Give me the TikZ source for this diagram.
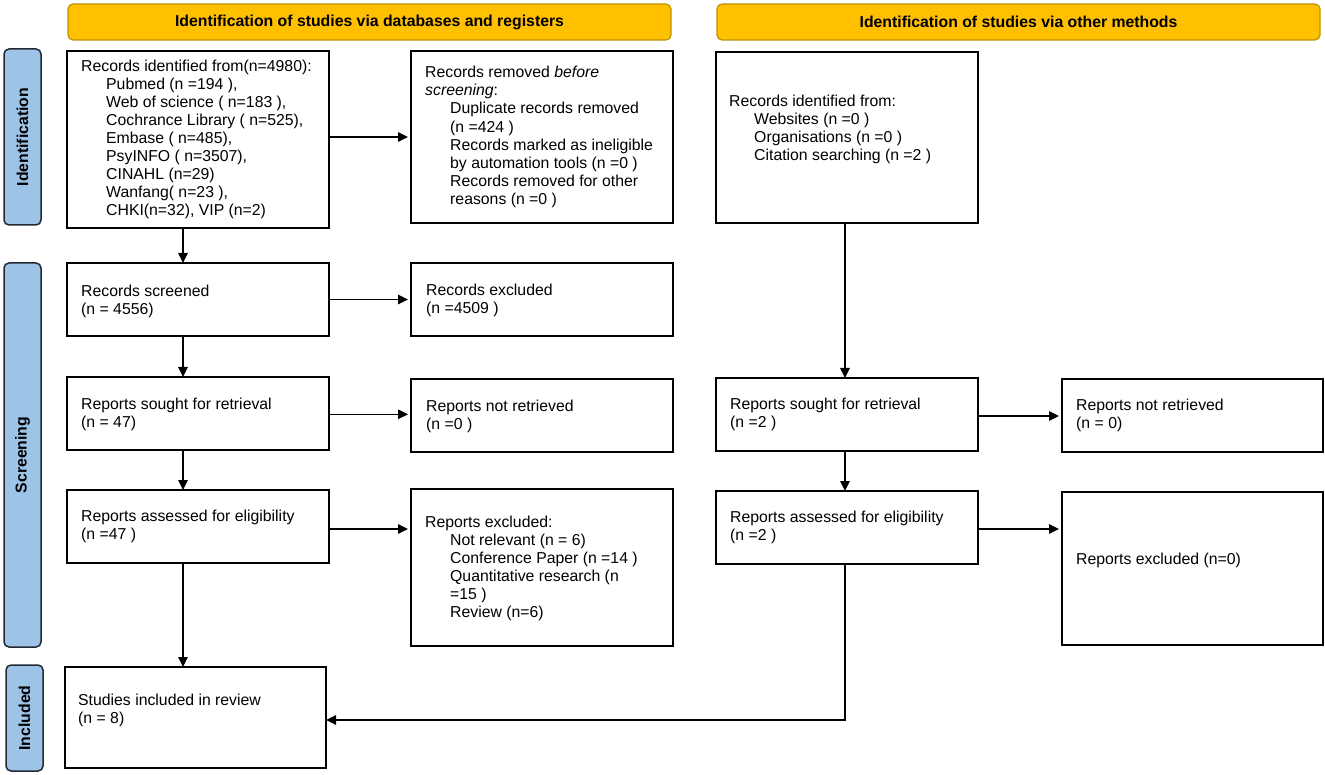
\documentclass[tikz,border=0pt]{standalone}
\usepackage{fontspec}
\setmainfont{Liberation Sans}
\usetikzlibrary{arrows.meta}
\definecolor{hdrgold}{HTML}{FFC000}
\definecolor{hdrline}{HTML}{BF9000}
\definecolor{sideblue}{HTML}{9DC3E6}
\definecolor{sideline}{HTML}{222A35}
\newcommand{\ind}{\hspace*{25pt}}
\newcommand{\pbox}[6][box]{\node[#1, anchor=north west, minimum width=#5pt-#3pt, minimum height=#6pt-#4pt] (#2) at (#3,#4) {};}
\begin{document}
\begin{tikzpicture}[x=1pt, y=-1pt,
  box/.style={draw=black, line width=1.8pt, rectangle, inner sep=0pt, outer sep=0pt},
  hdr/.style={draw=hdrline, fill=hdrgold, line width=1.2pt, rounded corners=5pt, inner sep=0pt, outer sep=0pt},
  side/.style={draw=sideline, fill=sideblue, line width=1.5pt, rounded corners=5pt, inner sep=0pt, outer sep=0pt},
  txt/.style={font=\fontsize{15.8}{18.1}\selectfont, align=left, inner sep=0pt, anchor=west},
  htxt/.style={font=\fontsize{15.8}{18.1}\selectfont\bfseries, inner sep=0pt},
  arr/.style={-{Triangle[length=10pt, width=9.5pt]}, line width=1.2pt, black},
  harr/.style={arr, shorten <=1pt, shorten >=3pt}
]
\useasboundingbox (0,0) rectangle (1325,775);
\coordinate (vl) at (183,0);
\coordinate (vr) at (845,0);

% headers
\pbox[hdr]{hl}{68}{4}{671}{40}
\pbox[hdr]{hr}{717}{4}{1320}{40}
\node[htxt] (t-hl) at (hl.center) {Identification of studies via databases and registers};
\node[htxt] (t-hr) at (hr.center) {Identification of studies via other methods};

% side labels
\pbox[side]{sid}{4}{49}{41}{225}
\pbox[side]{sscr}{4}{263}{41}{647}
\pbox[side]{sinc}{6}{665}{43}{771}
\node[htxt, rotate=90] (t-sid) at (sid.center) {Identification};
\node[htxt, rotate=90] (t-sscr) at (sscr.center) {Screening};
\node[htxt, rotate=90] (t-sinc) at (sinc.center) {Included};

% boxes
\pbox{idl}{67}{51}{329}{228}
\pbox{rem}{411}{51}{673}{223}
\pbox{idr}{716}{52}{978}{223}
\pbox{scr}{67}{263}{329}{336}
\pbox{exc}{411}{263}{673}{336}
\pbox{sgl}{67}{377}{329}{450}
\pbox{nrl}{411}{379}{673}{452}
\pbox{sgr}{716}{378}{978}{451}
\pbox{nrr}{1062}{379}{1323}{452}
\pbox{asl}{67}{490}{329}{563}
\pbox{exl}{411}{489}{673}{646}
\pbox{asr}{716}{491}{978}{564}
\pbox{exr}{1062}{492}{1323}{645}
\pbox{stu}{65}{667}{326}{768}

% texts
\node[txt] (t-idl) at ([xshift=14pt]idl.west) {Records identified from(n=4980):\\
\ind Pubmed (n =194 ),\\
\ind Web of science ( n=183 ),\\
\ind Cochrance Library ( n=525),\\
\ind Embase ( n=485),\\
\ind PsyINFO ( n=3507),\\
\ind CINAHL (n=29)\\
\ind Wanfang( n=23 ),\\
\ind CHKI(n=32), VIP (n=2)};
\node[txt] (t-rem) at ([xshift=14pt]rem.west) {Records removed \emph{before}\\
\emph{screening}:\\
\ind Duplicate records removed\\
\ind (n =424 )\\
\ind Records marked as ineligible\\
\ind by automation tools (n =0 )\\
\ind Records removed for other\\
\ind reasons (n =0 )};
\node[txt] (t-idr) at ([xshift=13pt, yshift=8pt]idr.west) {Records identified from:\\
\ind Websites (n =0 )\\
\ind Organisations (n =0 )\\
\ind Citation searching (n =2 )};
\node[txt] (t-scr) at ([xshift=14pt, yshift=-1.5pt]scr.west) {Records screened\\(n = 4556)};
\node[txt] (t-exc) at ([xshift=15pt, yshift=-1pt]exc.west) {Records excluded\\(n =4509 )};
\node[txt] (t-sgl) at ([xshift=14pt, yshift=-1pt]sgl.west) {Reports sought for retrieval\\(n = 47)};
\node[txt] (t-nrl) at ([xshift=15pt, yshift=-1pt]nrl.west) {Reports not retrieved\\(n =0 )};
\node[txt] (t-asl) at ([xshift=14pt]asl.west) {Reports assessed for eligibility\\(n =47 )};
\node[txt] (t-exl) at ([xshift=14pt, yshift=-1pt]exl.west) {Reports excluded:\\
\ind Not relevant (n = 6)\\
\ind Conference Paper (n =14 )\\
\ind Quantitative research (n\\
\ind =15 )\\
\ind Review (n=6)};
\node[txt] (t-sgr) at ([xshift=14pt]sgr.west) {Reports sought for retrieval\\(n =2 )};
\node[txt] (t-nrr) at ([xshift=14pt]nrr.west) {Reports not retrieved\\(n = 0)};
\node[txt] (t-asr) at ([xshift=14pt]asr.west) {Reports assessed for eligibility\\(n =2 )};
\node[txt] (t-exr) at ([xshift=14pt, yshift=8.5pt]exr.west) {Reports excluded (n=0)};
\node[txt] (t-stu) at ([xshift=13pt, yshift=7.5pt]stu.west) {Studies included in review\\(n = 8)};

% horizontal arrows
\draw[harr] (idl.east |- rem.west) -- (rem.west);
\draw[harr] (scr.east) -- (exc.west);
\draw[harr] ([yshift=-0.8pt]sgl.east) -- ([yshift=-0.8pt]sgl.east -| nrl.west);
\draw[harr] ([yshift=-2.5pt]asl.east) -- ([yshift=-2.5pt]asl.east -| exl.west);
\draw[harr] ([yshift=-1.5pt]sgr.east) -- ([yshift=-1.5pt]sgr.east -| nrr.west);
\draw[harr] ([yshift=-1.5pt]asr.east) -- ([yshift=-1.5pt]asr.east -| exr.west);

% vertical arrows
\draw[arr] (idl.south -| vl) -- (scr.north -| vl);
\draw[arr] (scr.south -| vl) -- (sgl.north -| vl);
\draw[arr] (sgl.south -| vl) -- (asl.north -| vl);
\draw[arr] (asl.south -| vl) -- (stu.north -| vl);
\draw[arr] (idr.south -| vr) -- (sgr.north -| vr);
\draw[arr] (sgr.south -| vr) -- (asr.north -| vr);
\draw[arr] (asr.south -| vr) |- ([yshift=-2.5pt]stu.east);
\end{tikzpicture}
\end{document}
